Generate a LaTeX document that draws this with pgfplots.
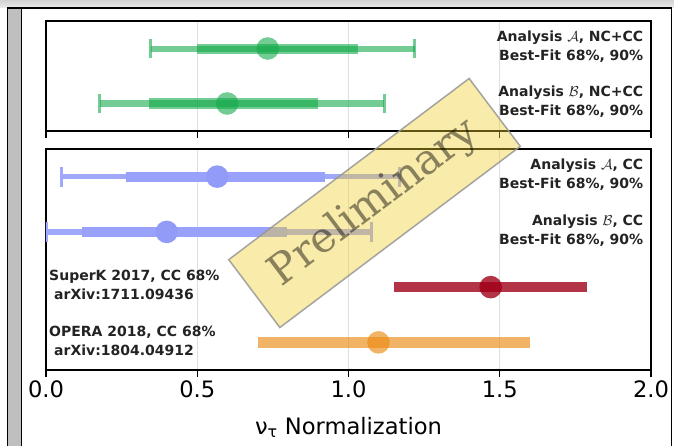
\documentclass[border=0pt]{standalone}
\usepackage{fontspec}
\setmainfont{DejaVu Sans}
\newfontfamily\prelimfont{DejaVu Serif}
\usepackage{pgfplots}
\pgfplotsset{compat=1.18}
\definecolor{gA}{RGB}{20,170,75}
\definecolor{bl90}{RGB}{160,168,250}
\definecolor{bl68}{RGB}{152,162,250}
\definecolor{blDot}{RGB}{146,156,248}
\definecolor{skR}{RGB}{160,0,25}
\definecolor{opO}{RGB}{235,140,20}
\definecolor{prelimY}{RGB}{240,205,40}
\definecolor{prelimE}{RGB}{150,150,150}
\definecolor{txt}{RGB}{35,35,35}

\pgfplotsset{
  panel/.style={scale only axis, width=605pt, xmin=0, xmax=2,
    xtick={0,0.5,1,1.5,2}, ytick=\empty, xtick pos=left, tick align=outside,
    major tick length=7pt, xmajorgrids, major grid style={gray!25, line width=1pt},
    axis line style={black, line width=1.3pt}, tick style={black, line width=1.2pt}},
  dot/.style args={#1 at #2}{only marks, mark=*, mark size=11.3pt, draw=none,
    mark options={draw=none, draw opacity=0, fill=#1, fill opacity=#2}},
}
\tikzset{note/.style={inner sep=0pt, font=\fontsize{14}{19}\selectfont\bfseries, text=txt}}

\begin{document}
\begin{tikzpicture}[x=1pt,y=1pt]
\useasboundingbox (0,0) rectangle (674,445);
\fill[white] (0,0) rectangle (674,445);
\shade[top color=gray!35, bottom color=gray!15] (0,437) rectangle (674,445);
\draw[black, line width=1.2pt, fill=gray!50] (7.5,-10) rectangle (21.5,437);
\draw[black, line width=1.6pt, fill=white] (21.5,-10) rectangle (671.5,437);

% top panel: NC+CC
\begin{axis}[panel, at={(46pt,314pt)}, anchor=south west, height=110pt,
  ymin=-0.5, ymax=1.5, xticklabels=\empty]
% Analysis A, NC+CC (y=1)
\addplot[gA, line width=6pt, opacity=0.6] coordinates {(0.347,1) (1.219,1)};
\addplot[gA, line width=3pt, opacity=0.6] coordinates {(0.347,0.82) (0.347,1.18)};
\addplot[gA, line width=3pt, opacity=0.6] coordinates {(1.219,0.82) (1.219,1.18)};
\addplot[gA, line width=10pt, opacity=0.6] coordinates {(0.500,1) (1.033,1)};
\addplot[dot={gA at 0.6}] coordinates {(0.733,1)};
% Analysis B, NC+CC (y=0)
\addplot[gA, line width=6pt, opacity=0.6] coordinates {(0.178,0) (1.118,0)};
\addplot[gA, line width=3pt, opacity=0.6] coordinates {(0.178,-0.18) (0.178,0.18)};
\addplot[gA, line width=3pt, opacity=0.6] coordinates {(1.118,-0.18) (1.118,0.18)};
\addplot[gA, line width=10pt, opacity=0.6] coordinates {(0.342,0) (0.898,0)};
\addplot[dot={gA at 0.6}] coordinates {(0.599,0)};
\node[note, anchor=east, align=right] at (axis cs:1.975,1) [yshift=2pt] {Analysis $\mathcal{A}$, NC+CC\\Best-Fit 68\%, 90\%};
\node[note, anchor=east, align=right] at (axis cs:1.975,0) [yshift=2pt] {Analysis $\mathcal{B}$, NC+CC\\Best-Fit 68\%, 90\%};
\end{axis}

% bottom panel: CC
\begin{axis}[panel, at={(46pt,75pt)}, anchor=south west, height=221pt,
  ymin=-0.5, ymax=3.5, xticklabels={0.0,0.5,1.0,1.5,2.0},
  xticklabel style={font=\fontsize{22.6}{27}\selectfont},
  xlabel={ν\textsubscript{τ} Normalization},
  xlabel style={font=\fontsize{22.6}{27}\selectfont, at={(axis description cs:0.5,0)}, anchor=center, yshift=-57pt}]
% Analysis A, CC (y=3)
\addplot[bl90, line width=5.5pt] coordinates {(0.050,3) (1.170,3)};
\addplot[bl90, line width=3pt] coordinates {(0.050,2.82) (0.050,3.18)};
\addplot[bl90, line width=3pt] coordinates {(1.170,2.82) (1.170,3.18)};
\addplot[bl68, line width=10pt] coordinates {(0.263,3) (0.922,3)};
\addplot[dot={blDot at 1}] coordinates {(0.566,3)};
% Analysis B, CC (y=2)
\addplot[bl90, line width=5.5pt] coordinates {(0.000,2) (1.075,2)};
\addplot[bl90, line width=3pt] coordinates {(0.000,1.82) (0.000,2.18)};
\addplot[bl90, line width=3pt] coordinates {(1.075,1.82) (1.075,2.18)};
\addplot[bl68, line width=10pt] coordinates {(0.120,2) (0.798,2)};
\addplot[dot={blDot at 1}] coordinates {(0.399,2)};
% SuperK 2017 (y=1)
\addplot[skR, line width=10.5pt, opacity=0.8] coordinates {(1.150,1) (1.790,1)};
\addplot[dot={skR at 0.8}] coordinates {(1.470,1)};
% OPERA 2018 (y=0)
\addplot[opO, line width=10.5pt, opacity=0.65] coordinates {(0.700,0) (1.600,0)};
\addplot[dot={opO at 0.65}] coordinates {(1.099,0)};
\node[note, anchor=east, align=right] at (axis cs:1.975,3) [yshift=1.5pt] {Analysis $\mathcal{A}$, CC\\Best-Fit 68\%, 90\%};
\node[note, anchor=east, align=right] at (axis cs:1.975,2) [yshift=1.5pt] {Analysis $\mathcal{B}$, CC\\Best-Fit 68\%, 90\%};
\node[note, anchor=west, align=left] at (axis cs:0.01,1) [yshift=2pt] {SuperK 2017, CC 68\%\\\hspace*{5pt}arXiv:1711.09436};
\node[note, anchor=west, align=left] at (axis cs:0.01,0) [yshift=1.5pt] {OPERA 2018, CC 68\%\\\hspace*{5pt}arXiv:1804.04912};
\end{axis}

\node[rotate=37, draw=prelimE, line width=1.5pt, draw opacity=0.85,
  fill=prelimY, fill opacity=0.4, text=black, text opacity=0.45,
  minimum width=301pt, minimum height=85pt, inner sep=0pt,
  font=\prelimfont\fontsize{42}{42}\selectfont] at (374.5,242) {Preliminary};
\end{tikzpicture}
\end{document}
